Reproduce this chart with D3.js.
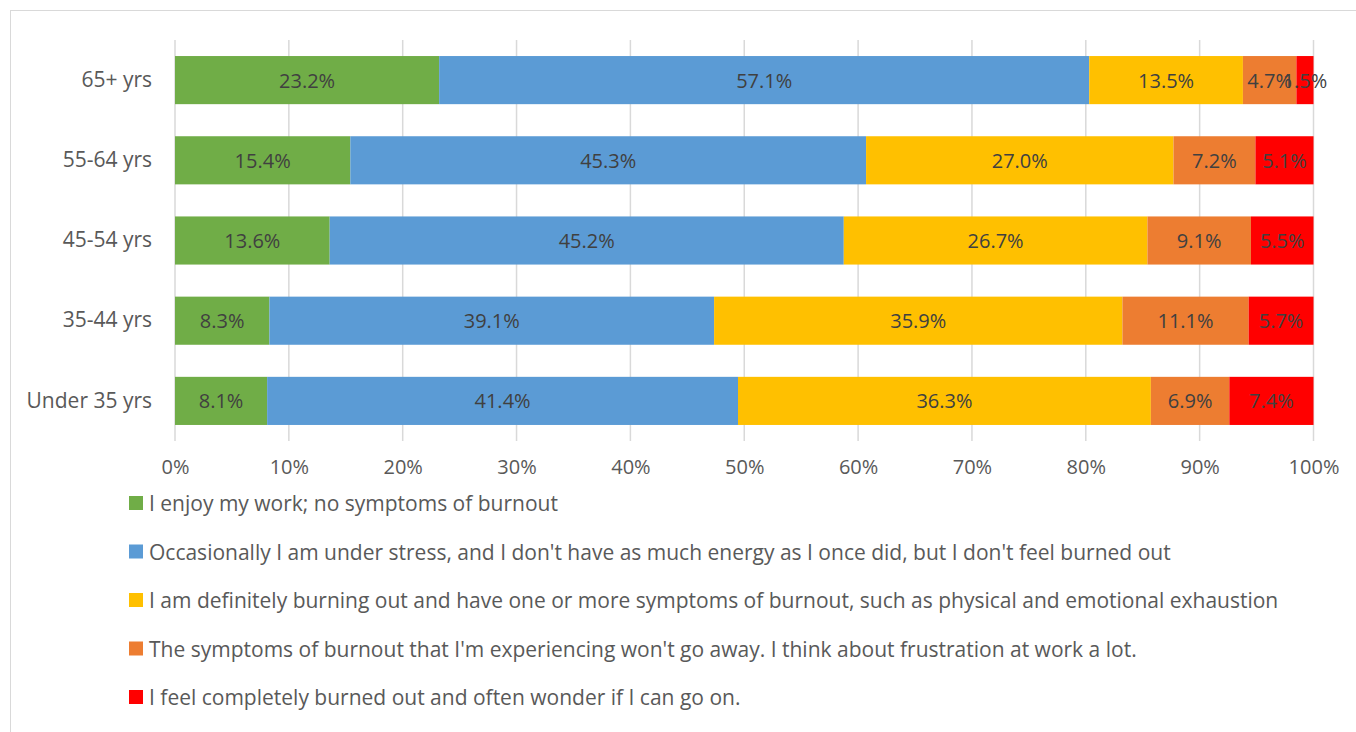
<!DOCTYPE html>
<html>
<head>
<meta charset="utf-8">
<script src="https://cdn.jsdelivr.net/npm/d3@7"></script>
<style>
  html, body { margin: 0; padding: 0; background: #fff; }
  svg { display: block; }
  text { font-family: "Open Sans", "Liberation Sans", sans-serif; }
</style>
</head>
<body>
<svg id="chart" width="1356" height="732"></svg>
<script>
// Age groups, top to bottom
const categories = ["65+ yrs", "55-64 yrs", "45-54 yrs", "35-44 yrs", "Under 35 yrs"];

// Response options (series)
const seriesNames = [
  "I enjoy my work; no symptoms of burnout",
  "Occasionally I am under stress, and I don't have as much energy as I once did, but I don't feel burned out",
  "I am definitely burning out and have one or more symptoms of burnout, such as physical and emotional exhaustion",
  "The symptoms of burnout that I'm experiencing won't go away. I think about frustration at work a lot.",
  "I feel completely burned out and often wonder if I can go on."
];

// Percent of respondents per age group, one array per series (same order as categories)
const enjoyValues      = [23.2, 15.4, 13.6, 8.3, 8.1];
const occasionalValues = [57.1, 45.3, 45.2, 39.1, 41.4];
const burningValues    = [13.5, 27.0, 26.7, 35.9, 36.3];
const persistentValues = [4.7, 7.2, 9.1, 11.1, 6.9];
const completeValues   = [1.5, 5.1, 5.5, 5.7, 7.4];

const tickValues = [0, 0.1, 0.2, 0.3, 0.4, 0.5, 0.6, 0.7, 0.8, 0.9, 1.0];

const colors = ["#70AD47", "#5B9BD5", "#FFC000", "#ED7D31", "#FF0000"];

const allSeries = [enjoyValues, occasionalValues, burningValues, persistentValues, completeValues];
const keys = d3.range(seriesNames.length).map(String);
const rows = categories.map((c, i) => {
  const r = { category: c };
  keys.forEach((k, j) => { r[k] = allSeries[j][i]; });
  return r;
});

const stack = d3.stack().keys(keys).offset(d3.stackOffsetExpand);
const stacked = stack(rows);

const svg = d3.select("#chart");

// chart frame
svg.append("rect")
  .attr("x", 10.5).attr("y", 10.5)
  .attr("width", 1400).attr("height", 800)
  .attr("fill", "none").attr("stroke", "#D9D9D9").attr("stroke-width", 1);

const x = d3.scaleLinear().domain([0, 1]).range([175, 1313.5]);
const y = d3.scaleBand().domain(categories).range([40, 441]).paddingInner(0.4).paddingOuter(0.2);

// vertical gridlines
svg.append("g").selectAll("line")
  .data(tickValues)
  .join("line")
  .attr("x1", d => x(d)).attr("x2", d => x(d))
  .attr("y1", 40).attr("y2", 441)
  .attr("stroke", "#D9D9D9").attr("stroke-width", 1.5);

// bars
const layer = svg.append("g").selectAll("g")
  .data(stacked)
  .join("g")
  .attr("fill", (d, i) => colors[i]);

layer.selectAll("rect")
  .data(d => d)
  .join("rect")
  .attr("x", d => x(d[0]))
  .attr("y", d => y(d.data.category))
  .attr("width", d => x(d[1]) - x(d[0]))
  .attr("height", y.bandwidth());

// value labels
const labels = svg.append("g");
stacked.forEach((s, si) => {
  s.forEach(d => {
    labels.append("text")
      .attr("x", (x(d[0]) + x(d[1])) / 2)
      .attr("y", y(d.data.category) + y.bandwidth() / 2)
      .attr("text-anchor", "middle")
      .attr("dominant-baseline", "central")
      .attr("font-size", 20)
      .attr("fill", "#404040")
      .text(d.data[s.key].toFixed(1) + "%");
  });
});

// category axis
const yAxis = svg.append("g")
  .attr("transform", "translate(152,0)")
  .call(d3.axisLeft(y).tickSize(0).tickPadding(0));
yAxis.select(".domain").remove();
yAxis.selectAll("text")
  .attr("font-size", 21)
  .attr("fill", "#595959")
  .attr("font-family", "\"Open Sans\", sans-serif");

// percent axis
const xAxis = svg.append("g")
  .attr("transform", "translate(0,441)")
  .call(d3.axisBottom(x).tickValues(tickValues).tickFormat(d3.format(".0%")).tickSize(0).tickPadding(19));
xAxis.select(".domain").remove();
xAxis.selectAll("text")
  .attr("font-size", 20)
  .attr("fill", "#595959")
  .attr("font-family", "\"Open Sans\", sans-serif");

// legend
const legendY = d3.scalePoint().domain(keys).range([503, 697]);
const legend = svg.append("g").selectAll("g")
  .data(keys)
  .join("g")
  .attr("transform", k => `translate(129,${legendY(k)})`);
legend.append("rect")
  .attr("x", 0).attr("y", -7)
  .attr("width", 14).attr("height", 14)
  .attr("fill", (k, i) => colors[i]);
legend.append("text")
  .attr("x", 20).attr("y", 0)
  .attr("dominant-baseline", "central")
  .attr("font-size", 21)
  .attr("fill", "#595959")
  .text((k, i) => seriesNames[i]);
</script>
</body>
</html>
